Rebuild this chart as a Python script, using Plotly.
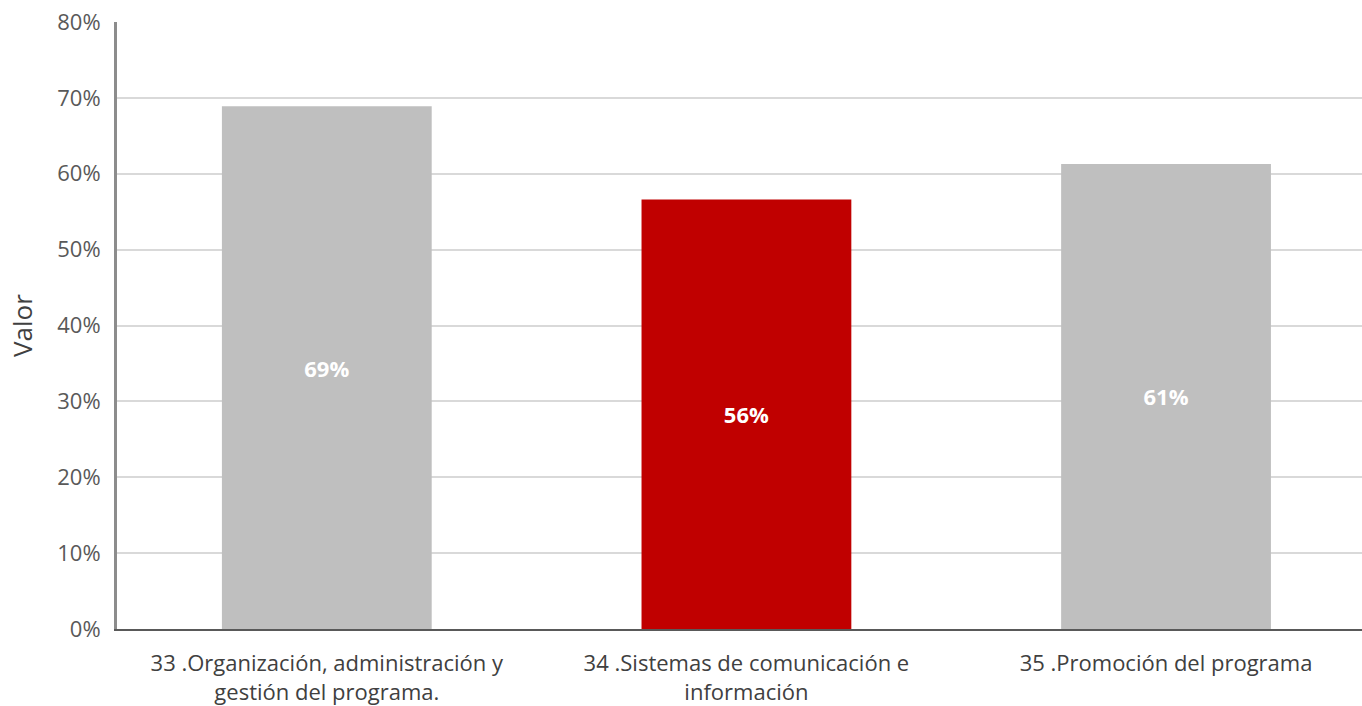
import plotly.graph_objects as go

categories = [
    "33 .Organización, administración y<br>gestión del programa.",
    "34 .Sistemas de comunicación e<br>información",
    "35 .Promoción del programa",
]
values = [0.689, 0.566, 0.613]
labels = ["69%", "56%", "61%"]
colors = ["#bfbfbf", "#c00000", "#bfbfbf"]
y_ticks = [0, 0.1, 0.2, 0.3, 0.4, 0.5, 0.6, 0.7, 0.8]
y_ticktext = ["0%", "10%", "20%", "30%", "40%", "50%", "60%", "70%", "80%"]

FONT = "Open Sans"

fig = go.Figure(
    go.Bar(
        x=categories,
        y=values,
        marker=dict(color=colors, line=dict(width=0)),
        width=0.5,
        text=labels,
        textposition="inside",
        insidetextanchor="middle",
        textfont=dict(family=FONT, size=22, color="white", weight="bold"),
        cliponaxis=False,
    )
)

fig.update_layout(
    width=1362,
    height=706,
    margin=dict(l=117, r=0, t=22, b=77),
    paper_bgcolor="white",
    plot_bgcolor="white",
    showlegend=False,
    font=dict(family=FONT, color="#404040"),
)

fig.update_xaxes(
    range=[-0.5, 2.467],
    showline=True,
    linecolor="#595959",
    linewidth=2,
    showgrid=False,
    ticks="",
    ticklabelstandoff=14,
    tickfont=dict(family=FONT, size=22, color="#404040"),
)

fig.update_yaxes(
    range=[0, 0.8],
    tickvals=y_ticks,
    ticktext=y_ticktext,
    showline=True,
    linecolor="#8c8c8c",
    linewidth=3,
    showgrid=True,
    gridcolor="#d9d9d9",
    gridwidth=2,
    zeroline=False,
    ticks="",
    ticklabelstandoff=9,
    tickfont=dict(family=FONT, size=22, color="#595959"),
    title=dict(text="Valor", font=dict(family=FONT, size=26, color="#404040"), standoff=18),
)

fig.write_html(
    "out.html",
    config={"displayModeBar": False},
    post_script="document.body.style.margin='0px';document.body.style.overflow='hidden';",
)
